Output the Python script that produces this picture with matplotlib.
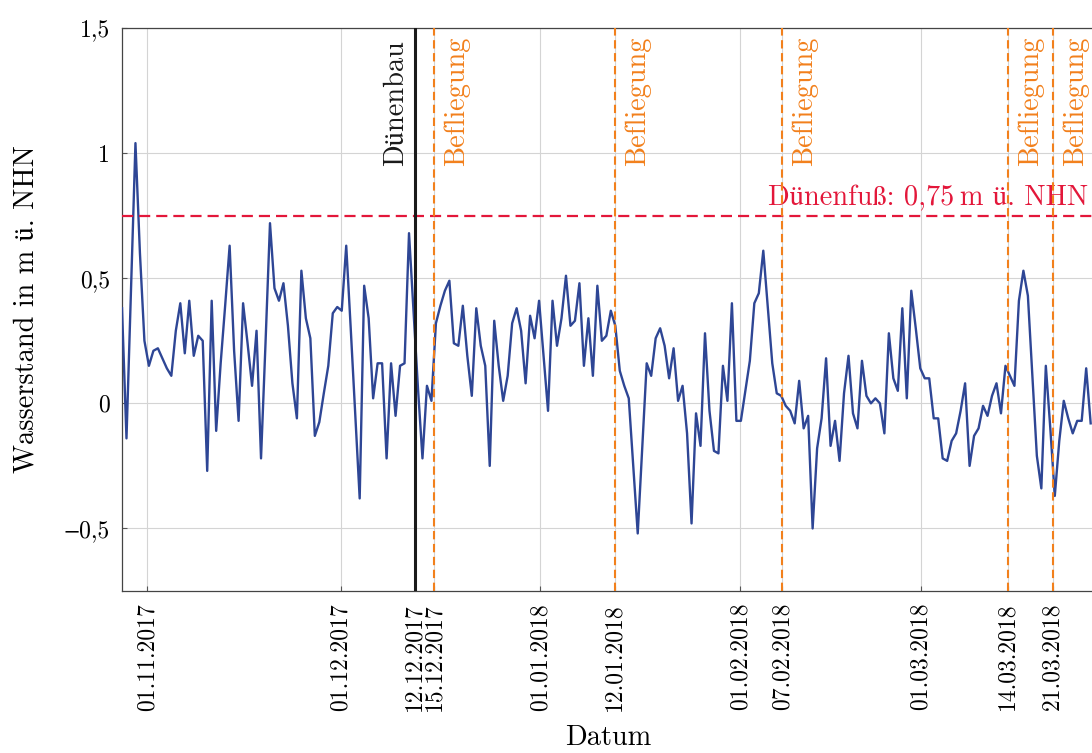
import matplotlib
matplotlib.use("Agg")
import numpy as np
import pandas as pd
import matplotlib.pyplot as plt
import matplotlib.dates as mdates
from matplotlib.ticker import FuncFormatter

plt.rcParams['font.family'] = ['cmr10', 'STIXGeneral', 'DejaVu Serif']
plt.rcParams['axes.unicode_minus'] = True

# Wasserstand in m ü. NHN, ein Wert etwa alle 16,7 h
start = "2017-10-28 01:48"
schritt = "1002min"
wasserstand = [
    0.38, -0.14, 0.45, 1.04, 0.60, 0.25, 0.15, 0.21, 0.22, 0.18, 0.14, 0.11, 0.29,
    0.40, 0.20, 0.41, 0.19, 0.27, 0.25, -0.27, 0.41, -0.11, 0.16, 0.39, 0.63, 0.21,
    -0.07, 0.40, 0.24, 0.07, 0.29, -0.22, 0.24, 0.72, 0.46, 0.41, 0.48,
    0.31, 0.08, -0.06, 0.53, 0.34, 0.26, -0.13, -0.075, 0.04, 0.15, 0.36, 0.385,
    0.37, 0.63, 0.30, -0.04, -0.38, 0.47, 0.34, 0.02, 0.16, 0.16, -0.22, 0.16,
    -0.05, 0.15, 0.16, 0.68, 0.37, 0.06, -0.22, 0.07, 0.01, 0.32, 0.39, 0.45, 0.49,
    0.24, 0.23, 0.39, 0.19, 0.03, 0.38, 0.23, 0.15, -0.25, 0.33, 0.15, 0.01, 0.11,
    0.32, 0.38, 0.29, 0.08, 0.35, 0.26, 0.41, 0.19, -0.03, 0.41, 0.23, 0.34, 0.51,
    0.31, 0.33, 0.48, 0.15, 0.34, 0.11, 0.47, 0.25, 0.27, 0.37, 0.31,
    0.13, 0.07, 0.02, -0.25, -0.52, -0.18, 0.16, 0.11, 0.26, 0.30, 0.23, 0.10,
    0.22, 0.01, 0.07, -0.12, -0.48, -0.04, -0.17, 0.28, -0.03, -0.19, -0.20, 0.15,
    0.01, 0.40, -0.07, -0.07, 0.05, 0.17, 0.40, 0.44, 0.61, 0.385, 0.16, 0.04, 0.03,
    -0.01, -0.03, -0.08, 0.09, -0.10, -0.05, -0.50, -0.18, -0.06, 0.18, -0.17,
    -0.07, -0.23, 0.04, 0.19, -0.04, -0.10, 0.17, 0.03, 0.0, 0.02, 0.0, -0.12,
    0.28, 0.10, 0.05, 0.38, 0.02, 0.45, 0.30, 0.14, 0.10, 0.10, -0.06, -0.06,
    -0.22, -0.23,
    -0.15, -0.12, -0.03, 0.08, -0.25, -0.13, -0.10, -0.01, -0.05, 0.03, 0.08,
    -0.04, 0.15, 0.11, 0.07, 0.41, 0.53, 0.43, 0.11, -0.21, -0.34, 0.15, -0.10,
    -0.37, -0.15, 0.01, -0.06, -0.12, -0.07, -0.07, 0.14, -0.08,
]

ereignis_datum = ["2017-12-12 12:00", "2017-12-15 12:00", "2018-01-12 12:00",
                  "2018-02-07 12:00", "2018-03-14 12:00", "2018-03-21 12:00"]
ereignis_name = ["Dünenbau", "Befliegung", "Befliegung", "Befliegung",
                 "Befliegung", "Befliegung"]
monats_ticks = ["2017-11-01", "2017-12-01", "2018-01-01", "2018-02-01", "2018-03-01"]
x_ende = "2018-03-28"
duenenfuss = 0.75
y_ticks = [-0.5, 0, 0.5, 1, 1.5]

blau = '#2e4695'
rot = '#e3173a'
orange = '#f2801c'

zeit = pd.date_range(start, periods=len(wasserstand), freq=schritt)
ereignisse = pd.to_datetime(ereignis_datum)

fig = plt.figure(figsize=(10.92, 7.53), dpi=100)
ax = fig.add_axes([122 / 1092, 162 / 753, 972.7 / 1092, 563 / 753])

ax.plot(zeit, wasserstand, color=blau, lw=1.7, zorder=3)
ax.axhline(duenenfuss, color=rot, lw=1.6, dashes=(5, 2.7), zorder=4)

for d, name in zip(ereignisse, ereignis_name):
    if name == "Dünenbau":
        ax.axvline(d, color='#1a1a1a', lw=2.2, zorder=5)
        ax.annotate(name, xy=(d, 0.95), xytext=(-4, 0), textcoords='offset points',
                    rotation=90, ha='right', va='bottom', fontsize=20.4, color='#1a1a1a')
    else:
        ax.axvline(d, color=orange, lw=1.5, dashes=(4, 2.2), zorder=5)
        ax.annotate(name, xy=(d, 0.95), xytext=(7, 0), textcoords='offset points',
                    rotation=90, ha='left', va='bottom', fontsize=20.4, color=orange)

ax.annotate("Dünenfuß: 0,75\u2009m ü. NHN", xy=(1, duenenfuss),
            xycoords=ax.get_yaxis_transform(), xytext=(-5, 3),
            textcoords='offset points', ha='right', va='bottom',
            fontsize=20.4, color=rot)

ax.set_xlim(zeit[0], pd.Timestamp(x_ende))
ax.set_ylim(-0.75, 1.5)

x_ticks = sorted(list(pd.to_datetime(monats_ticks)) + list(ereignisse))
ax.set_xticks(x_ticks)
ax.xaxis.set_major_formatter(mdates.DateFormatter('%d.%m.%Y'))
ax.set_yticks(y_ticks)
ax.yaxis.set_major_formatter(FuncFormatter(
    lambda v, p: f"{v:g}".replace('.', ',').replace('-', '\u2212')))

ax.tick_params(axis='x', labelrotation=90, labelsize=17, direction='in',
               length=3.5, pad=8.6, color='#555555')
ax.tick_params(axis='y', labelsize=17, direction='in', length=3.5, pad=8.6,
               color='#555555')
ax.grid(True, color='#d4d4d4', lw=0.8, zorder=0)
ax.set_axisbelow(True)
for s in ax.spines.values():
    s.set_color('#444444')
    s.set_linewidth(0.9)

ax.set_ylabel("Wasserstand in m ü. NHN", fontsize=20.4)
ax.yaxis.set_label_coords(-0.085, 0.5)
ax.set_xlabel("Datum", fontsize=20.4)
ax.xaxis.set_label_coords(0.5, -0.238)

fig.savefig("out.png", dpi=100)
